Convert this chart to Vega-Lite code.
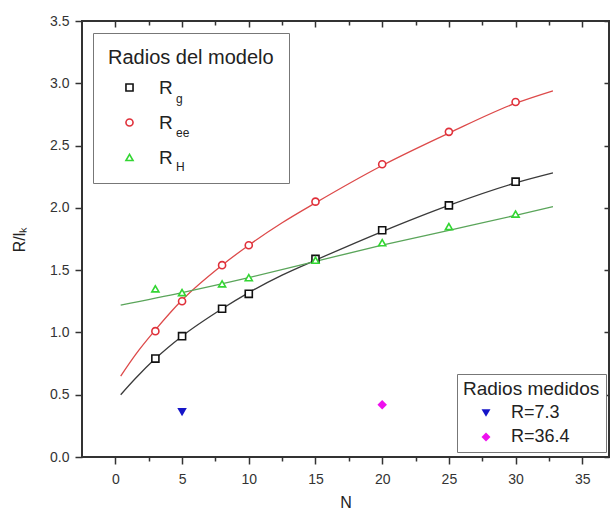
{
  "$schema": "https://vega.github.io/schema/vega-lite/v6.json",
  "width": 527,
  "height": 436,
  "autosize": {"type": "none"},
  "padding": {"left": 82, "top": 21, "right": 1, "bottom": 57},
  "background": "white",
  "config": {
    "font": "Liberation Sans",
    "view": {"stroke": "#333", "strokeWidth": 2},
    "axis": {"domain": false, "grid": false, "labelFont": "Liberation Sans", "labelFontSize": 14, "labelColor": "#333", "tickColor": "#333", "tickWidth": 1.5, "titleFont": "Liberation Sans", "titleFontWeight": "normal", "titleColor": "#222"},
    "legend": {"titleFont": "Liberation Sans", "labelFont": "Liberation Sans", "titleFontWeight": "normal", "titleColor": "#222", "labelColor": "#222"}
  },
  "datasets": {
    "fits": [
      {"N": 0.4, "v": 0.50, "serie": "Rg"}, {"N": 1.5, "v": 0.63, "serie": "Rg"}, {"N": 3, "v": 0.79, "serie": "Rg"}, {"N": 5, "v": 0.97, "serie": "Rg"}, {"N": 8, "v": 1.19, "serie": "Rg"}, {"N": 10, "v": 1.32, "serie": "Rg"}, {"N": 12.5, "v": 1.46, "serie": "Rg"}, {"N": 15, "v": 1.58, "serie": "Rg"}, {"N": 20, "v": 1.81, "serie": "Rg"}, {"N": 25, "v": 2.02, "serie": "Rg"}, {"N": 30, "v": 2.20, "serie": "Rg"}, {"N": 32.8, "v": 2.28, "serie": "Rg"},
      {"N": 0.4, "v": 0.65, "serie": "Ree"}, {"N": 1.5, "v": 0.82, "serie": "Ree"}, {"N": 3, "v": 1.02, "serie": "Ree"}, {"N": 5, "v": 1.26, "serie": "Ree"}, {"N": 8, "v": 1.54, "serie": "Ree"}, {"N": 10, "v": 1.70, "serie": "Ree"}, {"N": 12.5, "v": 1.88, "serie": "Ree"}, {"N": 15, "v": 2.04, "serie": "Ree"}, {"N": 20, "v": 2.34, "serie": "Ree"}, {"N": 25, "v": 2.60, "serie": "Ree"}, {"N": 30, "v": 2.84, "serie": "Ree"}, {"N": 32.8, "v": 2.94, "serie": "Ree"},
      {"N": 0.4, "v": 1.22, "serie": "RH"}, {"N": 5, "v": 1.32, "serie": "RH"}, {"N": 10, "v": 1.44, "serie": "RH"}, {"N": 15, "v": 1.57, "serie": "RH"}, {"N": 20, "v": 1.70, "serie": "RH"}, {"N": 25, "v": 1.82, "serie": "RH"}, {"N": 30, "v": 1.94, "serie": "RH"}, {"N": 32.8, "v": 2.01, "serie": "RH"}
    ],
    "model": [
      {"N": 3, "v": 0.79, "serie": "Rg"}, {"N": 5, "v": 0.97, "serie": "Rg"}, {"N": 8, "v": 1.19, "serie": "Rg"}, {"N": 10, "v": 1.31, "serie": "Rg"}, {"N": 15, "v": 1.59, "serie": "Rg"}, {"N": 20, "v": 1.82, "serie": "Rg"}, {"N": 25, "v": 2.02, "serie": "Rg"}, {"N": 30, "v": 2.21, "serie": "Rg"},
      {"N": 3, "v": 1.01, "serie": "Ree"}, {"N": 5, "v": 1.25, "serie": "Ree"}, {"N": 8, "v": 1.54, "serie": "Ree"}, {"N": 10, "v": 1.70, "serie": "Ree"}, {"N": 15, "v": 2.05, "serie": "Ree"}, {"N": 20, "v": 2.35, "serie": "Ree"}, {"N": 25, "v": 2.61, "serie": "Ree"}, {"N": 30, "v": 2.85, "serie": "Ree"},
      {"N": 3, "v": 1.35, "serie": "RH"}, {"N": 5, "v": 1.32, "serie": "RH"}, {"N": 8, "v": 1.39, "serie": "RH"}, {"N": 10, "v": 1.44, "serie": "RH"}, {"N": 15, "v": 1.58, "serie": "RH"}, {"N": 20, "v": 1.72, "serie": "RH"}, {"N": 25, "v": 1.85, "serie": "RH"}, {"N": 30, "v": 1.95, "serie": "RH"}
    ],
    "measured": [
      {"N": 5, "v": 0.36, "serie": "R=7.3"},
      {"N": 20, "v": 0.42, "serie": "R=36.4"}
    ]
  },
  "resolve": {
    "scale": {"color": "independent", "shape": "independent", "strokeDash": "independent"},
    "axis": {"x": "independent", "y": "independent"}
  },
  "layer": [
    {
      "data": {"name": "fits"},
      "mark": {"type": "line", "strokeWidth": 1.3, "interpolate": "monotone"},
      "encoding": {
        "x": {"field": "N", "type": "quantitative", "scale": {"domain": [-2.5, 37], "nice": false, "zero": false},
          "axis": {"orient": "bottom", "values": [0, 2.5, 5, 7.5, 10, 12.5, 15, 17.5, 20, 22.5, 25, 27.5, 30, 32.5, 35],
            "labelExpr": "datum.value % 5 === 0 ? datum.label : ''",
            "tickSize": {"condition": {"test": "datum.value % 5 === 0", "value": 7}, "value": 4},
            "labelPadding": 8, "title": "N", "titleFontSize": 16, "titlePadding": 8}},
        "y": {"field": "v", "type": "quantitative", "scale": {"domain": [0, 3.5], "nice": false, "zero": false},
          "axis": {"orient": "left", "values": [0, 0.5, 1, 1.5, 2, 2.5, 3, 3.5], "format": ".1f", "tickSize": 7, "labelPadding": 6,
            "title": "R/lₖ", "titleFontSize": 16, "titlePadding": 22}},
        "color": {"field": "serie", "type": "nominal", "scale": {"domain": ["Rg", "Ree", "RH"], "range": ["#3a3a3a", "#dd4a4a", "#5aa55a"]}, "legend": null},
        "detail": {"field": "serie"}
      }
    },
    {
      "data": {"name": "model"},
      "mark": {"type": "point", "filled": false, "fill": "white", "fillOpacity": 1, "strokeWidth": 1.6, "opacity": 1},
      "encoding": {
        "x": {"field": "N", "type": "quantitative", "scale": {"domain": [-2.5, 37], "nice": false, "zero": false},
          "axis": {"orient": "top", "values": [0, 2.5, 5, 7.5, 10, 12.5, 15, 17.5, 20, 22.5, 25, 27.5, 30, 32.5, 35], "labels": false, "title": null,
            "tickSize": {"condition": {"test": "datum.value % 5 === 0", "value": -6}, "value": -4}}},
        "y": {"field": "v", "type": "quantitative", "scale": {"domain": [0, 3.5], "nice": false, "zero": false},
          "axis": {"orient": "right", "values": [0, 0.5, 1, 1.5, 2, 2.5, 3, 3.5], "labels": false, "title": null, "tickSize": -5}},
        "color": {"field": "serie", "type": "nominal", "scale": {"domain": ["Rg", "Ree", "RH"], "range": ["#111111", "#e0303a", "#33d633"]},
          "legend": {"title": "Radios del modelo", "orient": "none", "legendX": 11, "legendY": 12, "strokeColor": "#777", "fillColor": "white", "padding": 15,
            "titleFontSize": 20, "titlePadding": 10, "labelFontSize": 19, "rowPadding": 15, "symbolSize": 50, "symbolStrokeWidth": 1.6, "symbolFillColor": "white",
            "symbolOffset": 12, "labelOffset": 20, "labelExpr": "'R'"}},
        "shape": {"field": "serie", "type": "nominal", "scale": {"domain": ["Rg", "Ree", "RH"], "range": ["square", "circle", "triangle-up"]},
          "legend": {"title": "Radios del modelo", "orient": "none", "legendX": 11, "legendY": 12, "strokeColor": "#777", "fillColor": "white", "padding": 15,
            "titleFontSize": 20, "titlePadding": 10, "labelFontSize": 19, "rowPadding": 15, "symbolSize": 50, "symbolStrokeWidth": 1.6, "symbolFillColor": "white",
            "symbolOffset": 12, "labelOffset": 20, "labelExpr": "'R'"}},
        "size": {"value": 50}
      }
    },
    {
      "data": {"name": "measured"},
      "mark": {"type": "point", "filled": true, "opacity": 1},
      "encoding": {
        "x": {"field": "N", "type": "quantitative", "scale": {"domain": [-2.5, 37], "nice": false, "zero": false}, "axis": null},
        "y": {"field": "v", "type": "quantitative", "scale": {"domain": [0, 3.5], "nice": false, "zero": false}, "axis": null},
        "color": {"field": "serie", "type": "nominal", "scale": {"domain": ["R=7.3", "R=36.4"], "range": ["#1515c8", "#ee10ee"]},
          "legend": {"title": "Radios medidos", "orient": "none", "legendX": 375, "legendY": 353, "strokeColor": "#777", "fillColor": "white", "padding": 6,
            "titleFontSize": 19, "titlePadding": 5, "labelFontSize": 18, "rowPadding": 6, "symbolSize": 80, "symbolOffset": 14, "labelOffset": 16}},
        "shape": {"field": "serie", "type": "nominal", "scale": {"domain": ["R=7.3", "R=36.4"], "range": ["triangle-down", "diamond"]},
          "legend": {"title": "Radios medidos", "orient": "none", "legendX": 375, "legendY": 353, "strokeColor": "#777", "fillColor": "white", "padding": 6,
            "titleFontSize": 19, "titlePadding": 5, "labelFontSize": 18, "rowPadding": 6, "symbolSize": 80, "symbolOffset": 14, "labelOffset": 16}},
        "size": {"value": 90}
      }
    },
    {
      "data": {"name": "fits"},
      "mark": {"type": "line", "strokeOpacity": 0, "strokeWidth": 0},
      "encoding": {
        "x": {"field": "N", "type": "quantitative", "scale": {"domain": [-2.5, 37], "nice": false, "zero": false}, "axis": null},
        "y": {"field": "v", "type": "quantitative", "scale": {"domain": [0, 3.5], "nice": false, "zero": false}, "axis": null},
        "strokeDash": {"field": "serie", "type": "nominal", "scale": {"domain": ["Rg", "Ree", "RH"], "range": [[1, 0], [2, 0], [3, 0]]},
          "legend": {"title": null, "orient": "none", "legendX": 82, "legendY": 72, "padding": 0, "labelFontSize": 12, "rowPadding": 22,
            "symbolOpacity": 0, "symbolStrokeColor": "white", "symbolSize": 4, "symbolStrokeWidth": 0, "labelOffset": 0, "labelColor": "#222",
            "labelExpr": "datum.value == 'Rg' ? 'g' : datum.value == 'Ree' ? 'ee' : 'H'"}}
      }
    }
  ]
}
